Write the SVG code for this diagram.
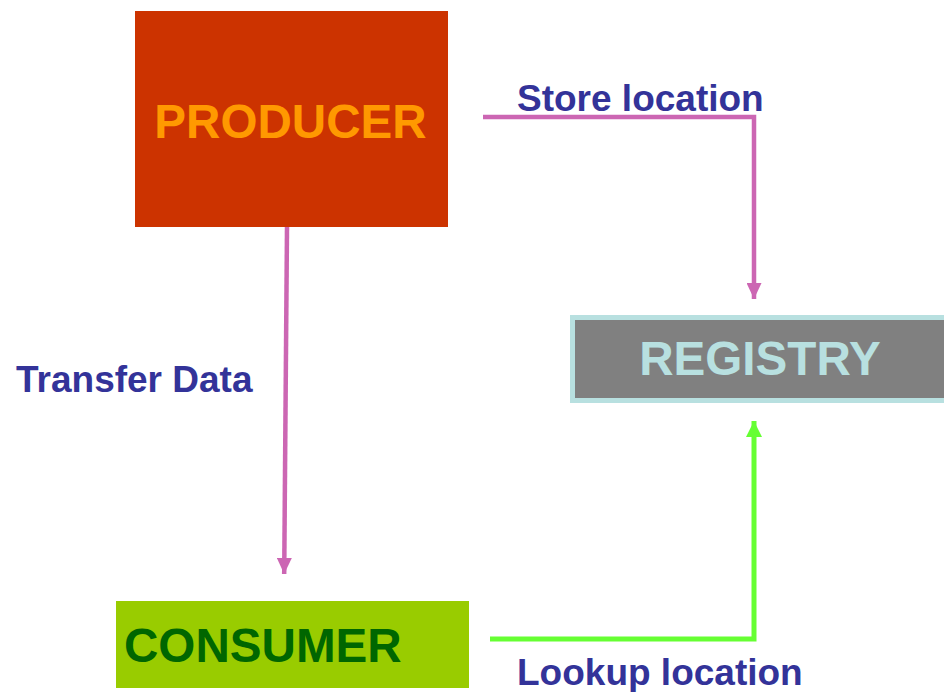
<svg xmlns="http://www.w3.org/2000/svg" width="944" height="692" viewBox="0 0 944 692">
<style>
.node{font-family:"Liberation Sans",Arial,sans-serif;font-weight:bold;font-size:47.6px}
.lbl{font-family:"Liberation Sans",Arial,sans-serif;font-weight:bold;font-size:37px;fill:#333399}
.pink{stroke:#CC66B3;stroke-width:4.5;fill:none}
.green{stroke:#66FF33;stroke-width:5;fill:none}
</style>
<defs>
<marker id="ap" markerUnits="userSpaceOnUse" markerWidth="16" markerHeight="15" refX="16" refY="7.5" orient="auto">
<path d="M0,0 L16,7.5 L0,15 Z" fill="#CC66B3"/>
</marker>
<marker id="ag" markerUnits="userSpaceOnUse" markerWidth="16" markerHeight="16" refX="16" refY="8" orient="auto">
<path d="M0,0 L16,8 L0,16 Z" fill="#66FF33"/>
</marker>
</defs>
<rect width="944" height="692" fill="#FFFFFF"/>
<g id="producer">
<rect x="135" y="11" width="313" height="216" fill="#CC3300"/>
<text class="node" x="290.5" y="138" text-anchor="middle" fill="#FF9900">PRODUCER</text>
</g>
<g id="registry">
<rect x="572.5" y="317.5" width="380" height="83" fill="#808080" stroke="#B8E0E0" stroke-width="5"/>
<text class="node" x="760" y="375" text-anchor="middle" fill="#B8E0E0">REGISTRY</text>
</g>
<g id="consumer">
<rect x="116" y="601" width="353" height="87" fill="#99CC00"/>
<text class="node" x="124" y="662" fill="#006600">CONSUMER</text>
</g>
<g id="connectors">
<path class="pink" d="M287,227 L284.2,574" marker-end="url(#ap)"/>
<path class="pink" d="M483,117 L754,117 L754,299" marker-end="url(#ap)"/>
<path class="green" d="M490,639 L754,639 L754,421" marker-end="url(#ag)"/>
</g>
<g id="labels">
<text class="lbl" x="16" y="392">Transfer Data</text>
<text class="lbl" x="517" y="111">Store location</text>
<text class="lbl" x="517" y="685">Lookup location</text>
</g>
</svg>
